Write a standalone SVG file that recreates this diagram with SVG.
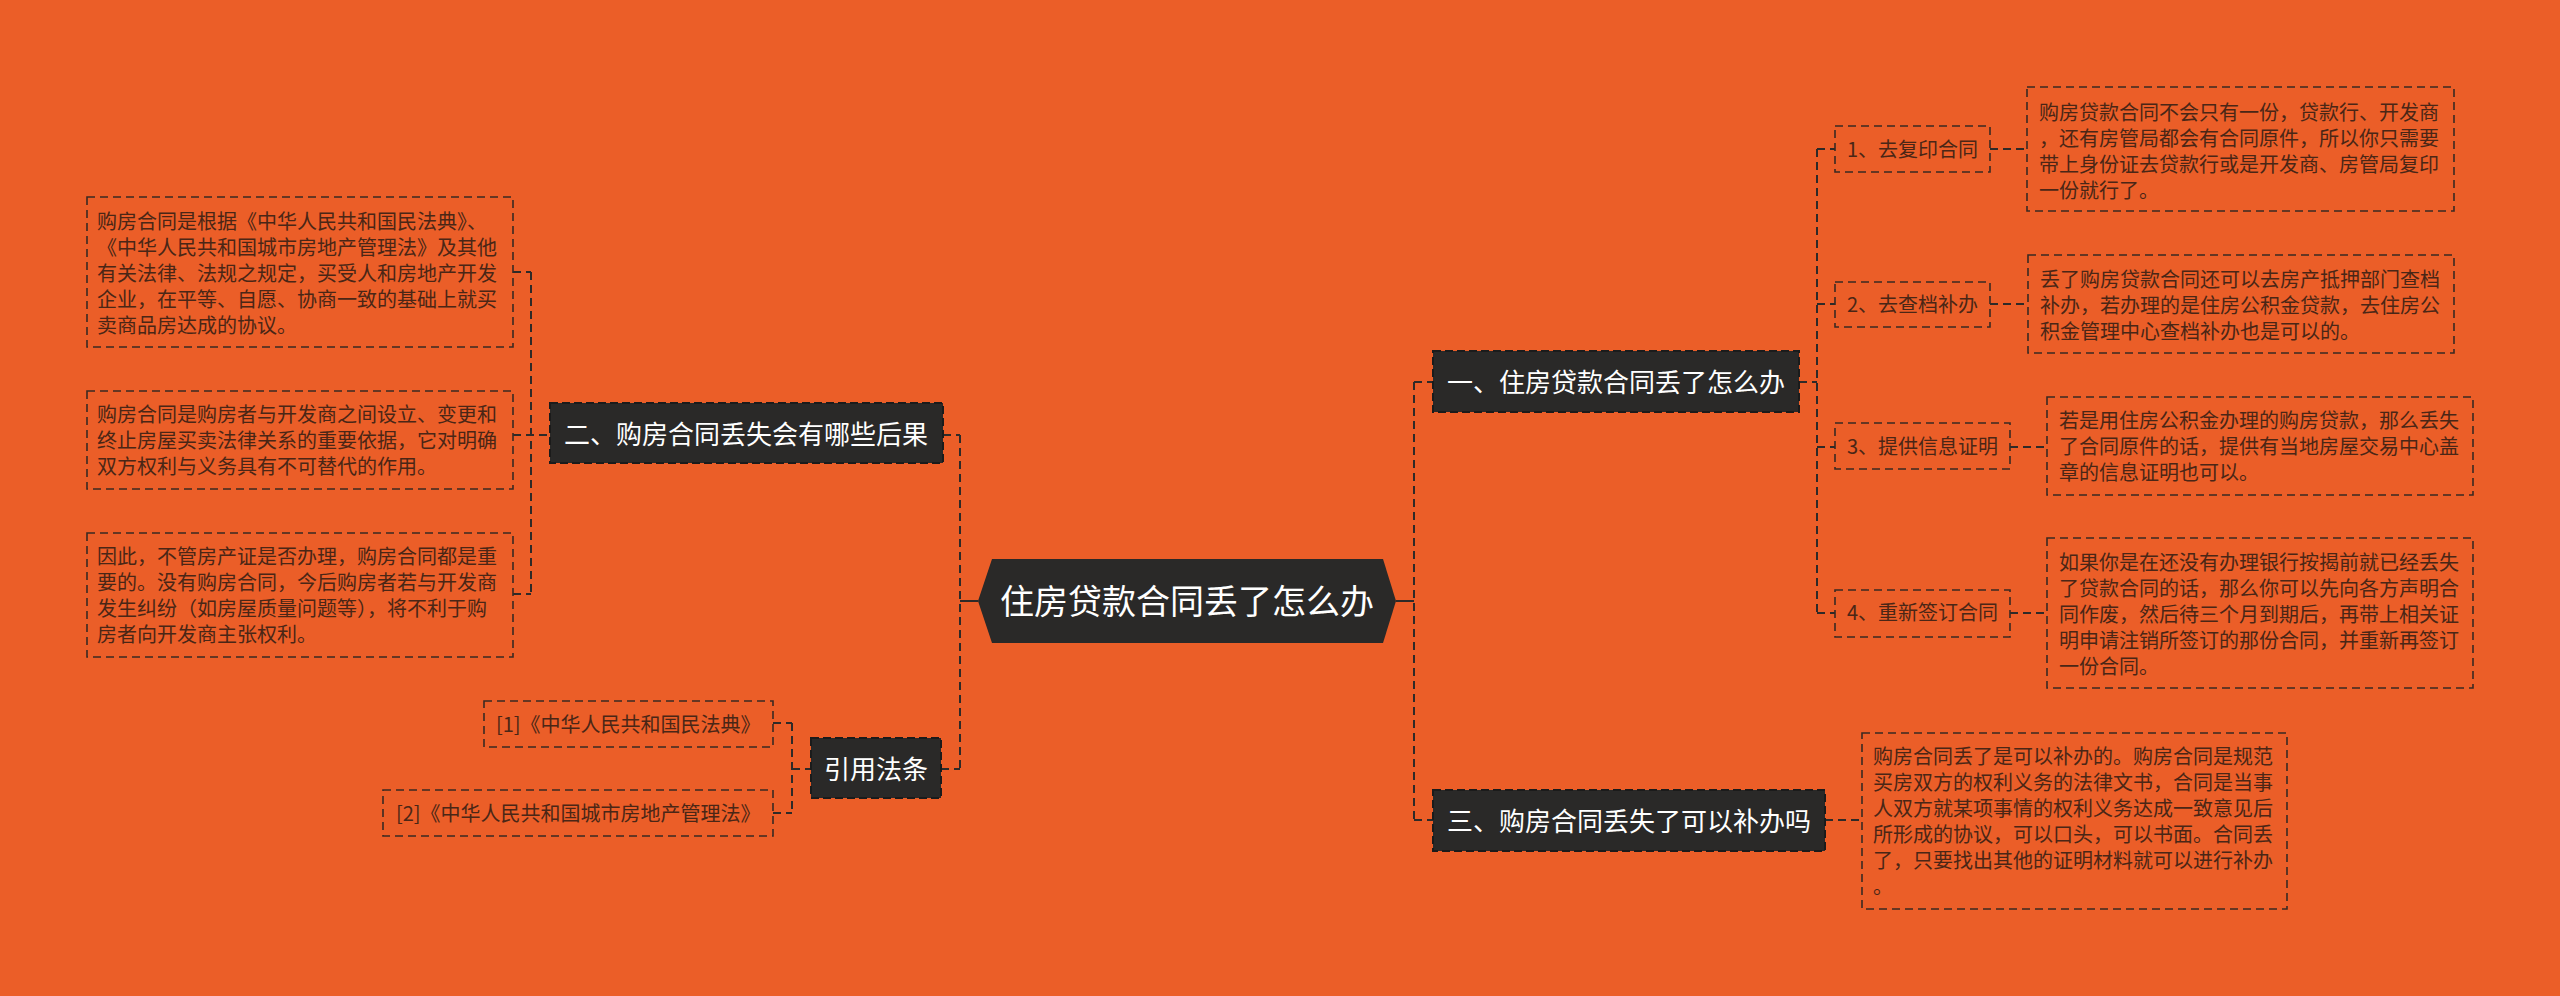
<svg xmlns="http://www.w3.org/2000/svg" width="2560" height="996" viewBox="0 0 2560 996">
<style>
.bg{fill:#EB5E28}
.ln{fill:none;stroke:#2e2a28;stroke-width:2;stroke-dasharray:8 5}
.sol{fill:none;stroke:#2e2a28;stroke-width:2}
.box{fill:none;stroke:#3a2a22;stroke-width:1.6;stroke-dasharray:8 5}
.br{fill:#2a2928;stroke:#1b1b1b;stroke-width:2;stroke-dasharray:8 4}
.t{font-family:"Noto Sans CJK SC","Liberation Sans",sans-serif;font-size:20px;fill:#4a2616}
.bt{font-family:"Noto Sans CJK SC","Liberation Sans",sans-serif;font-size:26px;fill:#ffffff}
.ct{font-family:"Noto Sans CJK SC","Liberation Sans",sans-serif;font-size:34px;fill:#ffffff}
</style>
<rect class="bg" x="0" y="0" width="2560" height="996"/>

<g id="connectors">
  <!-- center left spine -->
  <path class="ln" d="M960 435 V769"/>
  <path class="sol" d="M960 601 H978"/>
  <path class="ln" d="M943 435 H960"/>
  <path class="ln" d="M941 769 H960"/>
  <!-- branch 2 children -->
  <path class="ln" d="M531 272 V594"/>
  <path class="ln" d="M513 272 H531 M513 435 H550 M513 594 H531"/>
  <!-- refs -->
  <path class="ln" d="M792 723 V813"/>
  <path class="ln" d="M773 723 H792 M773 813 H792 M792 769 H811"/>
  <!-- center right spine -->
  <path class="ln" d="M1414 382 V820"/>
  <path class="sol" d="M1396 601 H1414"/>
  <path class="ln" d="M1414 382 H1433 M1414 820 H1433"/>
  <!-- branch 1 children -->
  <path class="ln" d="M1799 382 H1817"/>
  <path class="ln" d="M1817 149 V613"/>
  <path class="ln" d="M1817 149 H1835 M1817 304 H1835 M1817 447 H1835 M1817 613 H1835"/>
  <path class="ln" d="M1990 149 H2027 M1990 304 H2028 M2010 447 H2047 M2010 613 H2047"/>
  <!-- branch 3 child -->
  <path class="ln" d="M1825 820 H1862"/>
</g>

<g id="center">
  <polygon points="978,601 992,559 1383,559 1396,601 1383,643 992,643" fill="#2a2928"/>
  <text class="ct" x="1187" y="614" text-anchor="middle">住房贷款合同丢了怎么办</text>
</g>

<g id="branch2">
  <rect class="br" x="550" y="403" width="393" height="60"/>
  <text class="bt" x="746" y="444" text-anchor="middle">二、购房合同丢失会有哪些后果</text>
</g>
<g id="b2c1">
  <rect class="box" x="87" y="197" width="426" height="150"/>
  <text class="t" x="97" y="229">购房合同是根据《中华人民共和国民法典》、</text>
  <text class="t" x="97" y="255">《中华人民共和国城市房地产管理法》及其他</text>
  <text class="t" x="97" y="281">有关法律、法规之规定，买受人和房地产开发</text>
  <text class="t" x="97" y="307">企业，在平等、自愿、协商一致的基础上就买</text>
  <text class="t" x="97" y="333">卖商品房达成的协议。</text>
</g>
<g id="b2c2">
  <rect class="box" x="87" y="391" width="426" height="98"/>
  <text class="t" x="97" y="422">购房合同是购房者与开发商之间设立、变更和</text>
  <text class="t" x="97" y="448">终止房屋买卖法律关系的重要依据，它对明确</text>
  <text class="t" x="97" y="474">双方权利与义务具有不可替代的作用。</text>
</g>
<g id="b2c3">
  <rect class="box" x="87" y="533" width="426" height="124"/>
  <text class="t" x="97" y="564">因此，不管房产证是否办理，购房合同都是重</text>
  <text class="t" x="97" y="590">要的。没有购房合同，今后购房者若与开发商</text>
  <text class="t" x="97" y="616">发生纠纷（如房屋质量问题等），将不利于购</text>
  <text class="t" x="97" y="642">房者向开发商主张权利。</text>
</g>

<g id="refs">
  <rect class="br" x="811" y="738" width="130" height="60"/>
  <text class="bt" x="876" y="779" text-anchor="middle">引用法条</text>
</g>
<g id="ref1">
  <rect class="box" x="484" y="701" width="289" height="46"/>
  <text class="t" x="496" y="732">[1]《中华人民共和国民法典》</text>
</g>
<g id="ref2">
  <rect class="box" x="383" y="790" width="390" height="46"/>
  <text class="t" x="396" y="821">[2]《中华人民共和国城市房地产管理法》</text>
</g>

<g id="branch1">
  <rect class="br" x="1433" y="351" width="366" height="61"/>
  <text class="bt" x="1616" y="392" text-anchor="middle">一、住房贷款合同丢了怎么办</text>
</g>
<g id="b1s1">
  <rect class="box" x="1835" y="126" width="155" height="46"/>
  <text class="t" x="1847" y="157">1、去复印合同</text>
</g>
<g id="b1d1">
  <rect class="box" x="2027" y="87" width="427" height="124"/>
  <text class="t" x="2039" y="120">购房贷款合同不会只有一份，贷款行、开发商</text>
  <text class="t" x="2039" y="146">，还有房管局都会有合同原件，所以你只需要</text>
  <text class="t" x="2039" y="172">带上身份证去贷款行或是开发商、房管局复印</text>
  <text class="t" x="2039" y="198">一份就行了。</text>
</g>
<g id="b1s2">
  <rect class="box" x="1835" y="282" width="155" height="45"/>
  <text class="t" x="1847" y="312">2、去查档补办</text>
</g>
<g id="b1d2">
  <rect class="box" x="2028" y="255" width="426" height="98"/>
  <text class="t" x="2040" y="287">丢了购房贷款合同还可以去房产抵押部门查档</text>
  <text class="t" x="2040" y="313">补办，若办理的是住房公积金贷款，去住房公</text>
  <text class="t" x="2040" y="339">积金管理中心查档补办也是可以的。</text>
</g>
<g id="b1s3">
  <rect class="box" x="1835" y="423" width="175" height="46"/>
  <text class="t" x="1847" y="454">3、提供信息证明</text>
</g>
<g id="b1d3">
  <rect class="box" x="2047" y="397" width="426" height="98"/>
  <text class="t" x="2059" y="428">若是用住房公积金办理的购房贷款，那么丢失</text>
  <text class="t" x="2059" y="454">了合同原件的话，提供有当地房屋交易中心盖</text>
  <text class="t" x="2059" y="480">章的信息证明也可以。</text>
</g>
<g id="b1s4">
  <rect class="box" x="1835" y="590" width="175" height="47"/>
  <text class="t" x="1847" y="620">4、重新签订合同</text>
</g>
<g id="b1d4">
  <rect class="box" x="2047" y="538" width="426" height="150"/>
  <text class="t" x="2059" y="570">如果你是在还没有办理银行按揭前就已经丢失</text>
  <text class="t" x="2059" y="596">了贷款合同的话，那么你可以先向各方声明合</text>
  <text class="t" x="2059" y="622">同作废，然后待三个月到期后，再带上相关证</text>
  <text class="t" x="2059" y="648">明申请注销所签订的那份合同，并重新再签订</text>
  <text class="t" x="2059" y="674">一份合同。</text>
</g>

<g id="branch3">
  <rect class="br" x="1433" y="790" width="392" height="61"/>
  <text class="bt" x="1629" y="831" text-anchor="middle">三、购房合同丢失了可以补办吗</text>
</g>
<g id="b3d1">
  <rect class="box" x="1862" y="733" width="425" height="176"/>
  <text class="t" x="1873" y="764">购房合同丢了是可以补办的。购房合同是规范</text>
  <text class="t" x="1873" y="790">买房双方的权利义务的法律文书，合同是当事</text>
  <text class="t" x="1873" y="816">人双方就某项事情的权利义务达成一致意见后</text>
  <text class="t" x="1873" y="842">所形成的协议，可以口头，可以书面。合同丢</text>
  <text class="t" x="1873" y="868">了，只要找出其他的证明材料就可以进行补办</text>
  <text class="t" x="1873" y="894">。</text>
</g>
</svg>
